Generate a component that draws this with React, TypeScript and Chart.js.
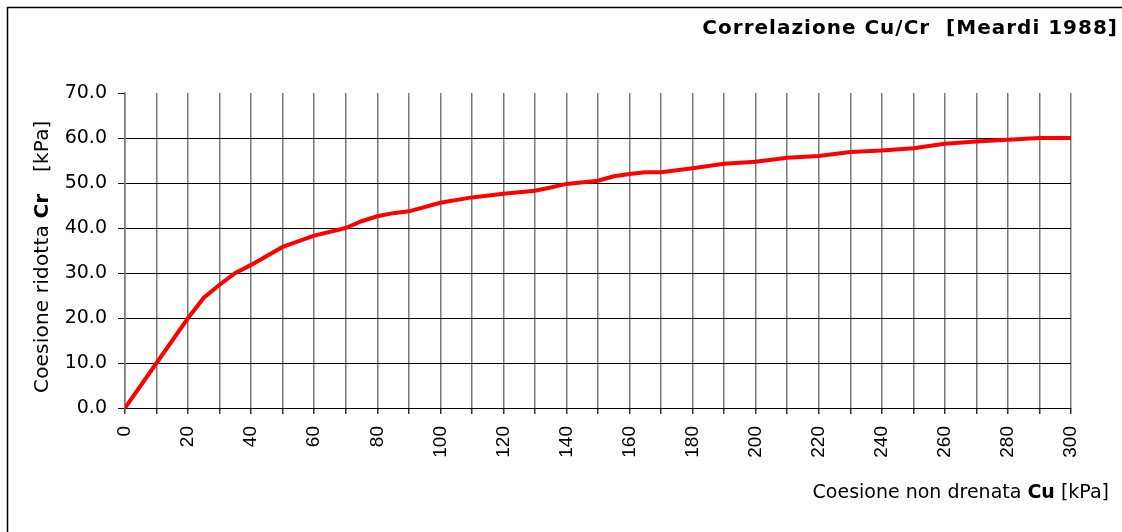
import React, { useEffect, useRef } from 'react';
import { Chart, registerables } from 'chart.js';

Chart.register(...registerables);

// Data
const cuValues = [0, 10, 20, 25, 30, 35, 40, 50, 60, 70, 75, 80, 85, 90, 100, 110, 120, 130, 135, 140, 150, 155, 160, 165, 170, 180, 190, 200, 210, 220, 230, 240, 250, 260, 270, 280, 290, 300];
const crValues = [0, 10, 20, 24.5, 27.4, 30, 31.8, 35.8, 38.3, 40, 41.5, 42.6, 43.3, 43.7, 45.6, 46.8, 47.6, 48.3, 49.0, 49.8, 50.5, 51.5, 52.0, 52.4, 52.4, 53.3, 54.3, 54.7, 55.6, 56.0, 56.9, 57.2, 57.7, 58.7, 59.2, 59.6, 60.0, 60.0];

const chartTitle = 'Correlazione Cu/Cr  [Meardi 1988]';
const xTitleRuns = [
  { text: 'Coesione non drenata ', bold: false },
  { text: 'Cu', bold: true },
  { text: ' [kPa]', bold: false },
];
const yTitleRuns = [
  { text: 'Coesione ridotta ', bold: false },
  { text: 'Cr', bold: true },
];
const yTitleUnit = '[kPa]';

const FONT = '"DejaVu Sans", Verdana, sans-serif';
const TICK_X_FONT = '"Liberation Sans", Arial, sans-serif';

function drawRuns(ctx: CanvasRenderingContext2D, runs: { text: string; bold: boolean }[], x: number, y: number, size: number) {
  let cx = x;
  for (const r of runs) {
    ctx.font = `${r.bold ? 'bold ' : ''}${size}px ${FONT}`;
    ctx.fillText(r.text, cx, y);
    cx += ctx.measureText(r.text).width;
  }
  return cx;
}
function runsWidth(ctx: CanvasRenderingContext2D, runs: { text: string; bold: boolean }[], size: number) {
  let w = 0;
  for (const r of runs) {
    ctx.font = `${r.bold ? 'bold ' : ''}${size}px ${FONT}`;
    w += ctx.measureText(r.text).width;
  }
  return w;
}

const decorPlugin = {
  id: 'decor',
  beforeDraw(chart: any) {
    const ctx = chart.ctx as CanvasRenderingContext2D;
    ctx.save();
    ctx.fillStyle = '#fff';
    ctx.fillRect(0, 0, chart.width, chart.height);
    ctx.restore();
  },
  afterDraw(chart: any) {
    const ctx = chart.ctx as any;
    const area = chart.chartArea;
    ctx.save();
    // outer frame
    ctx.strokeStyle = '#000';
    ctx.lineWidth = 1.5;
    ctx.beginPath();
    ctx.moveTo(7.5, chart.height + 10);
    ctx.lineTo(7.5, 7.5);
    ctx.lineTo(chart.width + 10, 7.5);
    ctx.stroke();

    ctx.fillStyle = '#000';
    ctx.textBaseline = 'alphabetic';
    // title
    ctx.textAlign = 'right';
    ctx.font = `bold 20px ${FONT}`;
    ctx.letterSpacing = '1px';
    ctx.fillText(chartTitle, chart.width - 4, 34);
    ctx.letterSpacing = '0px';

    // x title
    ctx.textAlign = 'left';
    const xs = 19;
    const xw = runsWidth(ctx, xTitleRuns, xs);
    drawRuns(ctx, xTitleRuns, area.right + 38 - xw, 498, xs);

    // y title
    ctx.save();
    ctx.translate(47.5, area.bottom - 15);
    ctx.rotate(-Math.PI / 2);
    ctx.letterSpacing = '0.2px';
    drawRuns(ctx, yTitleRuns, 0, 0, 20);
    ctx.font = `20px ${FONT}`;
    ctx.fillText(yTitleUnit, 221, 0);
    ctx.letterSpacing = '0px';
    ctx.restore();

    ctx.restore();
  },
};

export default function App() {
  const ref = useRef<HTMLCanvasElement>(null);
  useEffect(() => {
    if (!ref.current) return;
    const chart = new Chart(ref.current, {
      type: 'line',
      data: {
        datasets: [
          {
            data: cuValues.map((x, i) => ({ x, y: crValues[i] })),
            borderColor: '#ff0000',
            borderWidth: 4,
            pointRadius: 0,
            tension: 0,
            fill: false,
          },
        ],
      },
      options: {
        animation: false,
        responsive: false,
        layout: { padding: { top: 93, right: 51, left: 0, bottom: 0 } },
        plugins: {
          legend: { display: false },
          tooltip: { enabled: false },
          title: { display: false },
        },
        scales: {
          x: {
            type: 'linear',
            min: 0,
            max: 300,
            afterFit: (s: any) => { s.height = 124; },
            ticks: {
              stepSize: 10,
              autoSkip: false,
              maxRotation: 90,
              minRotation: 90,
              padding: 12,
              color: '#000',
              font: { family: TICK_X_FONT, size: 19 },
              callback: (v: any) => (Number(v) % 20 === 0 ? String(v) : ''),
            },
            grid: {
              color: '#7a7a7a',
              lineWidth: 1.5,
              tickLength: 6,
              tickColor: '#333',
              drawTicks: true,
            },
            border: { color: '#000', width: 1 },
          },
          y: {
            type: 'linear',
            min: 0,
            max: 70,
            afterFit: (s: any) => { s.width = 125; },
            ticks: {
              stepSize: 10,
              padding: 11,
              color: '#000',
              font: { family: FONT, size: 19 },
              callback: (v: any) => Number(v).toFixed(1),
            },
            grid: {
              color: (c: any) => (c.tick && c.tick.value === 70 ? 'rgba(0,0,0,0)' : '#000'),
              lineWidth: 1,
              tickLength: 7,
              tickColor: '#000',
            },
            border: { color: '#7a7a7a', width: 1.5 },
          },
        },
      },
      plugins: [decorPlugin],
    } as any);
    return () => chart.destroy();
  }, []);
  return (
    <div style={{ position: 'fixed', left: 0, top: 0, width: 1122, height: 532, background: '#fff' }}>
      <canvas ref={ref} width={1122} height={532} style={{ display: 'block' }} />
    </div>
  );
}
